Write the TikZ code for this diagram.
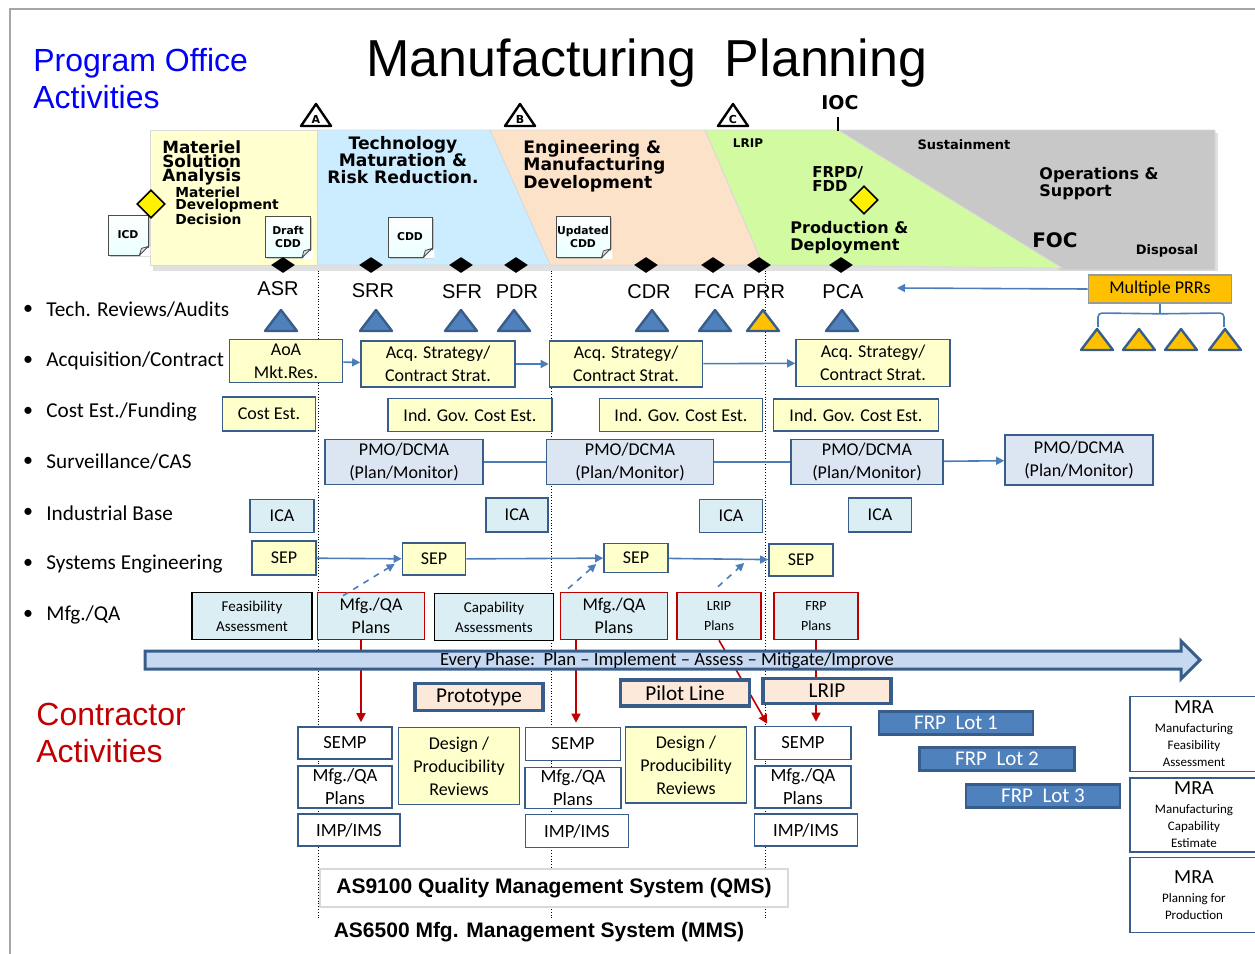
\documentclass[tikz,border=0pt]{standalone}
\usepackage{fontspec}
\setmainfont{Carlito}
\newfontfamily\arialf{Liberation Sans}
\newfontfamily\verdf{DejaVu Sans}
\usetikzlibrary{shapes.geometric,arrows.meta,calc,shadows}

\definecolor{bordblue}{RGB}{56,93,138}
\definecolor{lineblue}{RGB}{74,126,187}
\definecolor{paleyel}{RGB}{255,255,204}
\definecolor{pmoblue}{RGB}{220,230,242}
\definecolor{icablue}{RGB}{218,238,243}
\definecolor{peach}{RGB}{253,233,217}
\definecolor{darkred}{RGB}{192,0,0}
\definecolor{prrorange}{RGB}{255,192,0}
\definecolor{revblue}{RGB}{79,129,189}
\definecolor{msayel}{RGB}{255,255,208}
\definecolor{tmrrblue}{RGB}{204,236,255}
\definecolor{emdpeach}{RGB}{252,226,200}
\definecolor{pdgreen}{RGB}{210,250,160}
\definecolor{osgray}{RGB}{200,200,200}
\definecolor{phaseblue}{RGB}{198,217,241}
\definecolor{progblue}{RGB}{0,0,255}
\newcommand\fsz[2]{\fontsize{#1}{#2}\selectfont}

\tikzset{
  sz/.style 2 args={minimum width=#1*0.5pt,minimum height=#2*0.5pt},
  govbox/.style={draw=bordblue,line width=0.8pt,inner sep=0pt,align=center,font=\fsz{9}{11.5}},
  yelbox/.style={govbox,fill=paleyel},
  pmobox/.style={govbox,fill=pmoblue},
  icabox/.style={govbox,fill=icablue},
  assessbox/.style={govbox,draw=black,fill=icablue,font=\fsz{7.5}{10}},
  planbox/.style={govbox,draw=darkred,fill=icablue},
  ctrbox/.style={govbox,fill=white,font=\fsz{9.3}{11.5}},
  prodbox/.style={govbox,fill=peach,line width=1.6pt,font=\fsz{10.6}{12}},
  lotbox/.style={govbox,fill=revblue,line width=1.2pt,text=white,font=\fsz{10.5}{12}},
  mrabox/.style={govbox,fill=white,font=\fsz{6.5}{8.5}},
  docicon/.style={draw=black!70,top color=white,bottom color=cyan!8,inner sep=0pt,align=center,
    font=\verdf\bfseries\fsz{5.4}{6.8},
    drop shadow={shadow xshift=0.8pt,shadow yshift=-0.8pt,fill=black!40}},
  phasetxt/.style={inner sep=0pt,align=left,font=\verdf\bfseries\fsz{8.6}{8.7}},
  rowlab/.style={anchor=west,inner sep=0pt,font=\fsz{10.6}{12}},
  revlab/.style={inner sep=0pt,font=\arialf\fsz{10}{12}},
  revdia/.style={diamond,fill=black,inner sep=0pt,minimum width=12pt,minimum height=8pt},
  mdddia/.style={diamond,draw=black,fill=yellow,line width=0.8pt,inner sep=0pt,minimum width=14pt,minimum height=14pt},
  barrow/.style={draw=lineblue,line width=0.8pt,-{Triangle[length=4pt,width=4pt]}},
  bline/.style={draw=lineblue,line width=0.8pt},
  rarrow/.style={draw=darkred,line width=0.8pt,-{Triangle[length=4.5pt,width=4.5pt]}},
  revtri/.style={fill=revblue,draw=bordblue,line width=1.2pt,line join=round},
  prrtri/.style={fill=prrorange,draw=bordblue,line width=1.2pt,line join=round},
}

\begin{document}
\begin{tikzpicture}[x=0.5pt,y=-0.5pt]
\useasboundingbox (0,0) rectangle (1255,954);
% slide frame
\draw[gray!70,line width=1pt] (10,954) -- (10,9) -- (1255,9);

% phase dividers
\foreach \dx in {318,551,765}
  \draw[densely dotted,line width=0.4pt] (\dx,265) -- (\dx,920);

% headings
\node[font=\arialf\fsz{26}{30}] (title) at (647,63) {Manufacturing\ \ Planning};
\node[anchor=west,align=left,inner sep=0pt,text=progblue,font=\arialf\fsz{16}{18.5}] (prog) at (33,79) {Program Office\\Activities};
\node[anchor=west,align=left,inner sep=0pt,text=darkred,font=\arialf\fsz{16}{18.5}] (contr) at (36,733) {Contractor\\Activities};

% acquisition phases band
\fill[black!12] (153,133) rectangle (1218,271);
\filldraw[draw=white!85!black,fill=osgray] (838,130) -- (1215,130) -- (1215,270) -- (1060,270) -- cycle;
\filldraw[draw=white!85!black,fill=pdgreen] (705,130) -- (838,130) -- (1062,268) -- (763,265) -- cycle;
\filldraw[draw=white!85!black,fill=emdpeach] (490,130) -- (705,130) -- (763,265) -- (550,265) -- cycle;
\filldraw[draw=white!85!black,fill=tmrrblue] (317,130) -- (490,130) -- (550,265) -- (317,265) -- cycle;
\filldraw[draw=white!85!black,fill=msayel] (150,130) rectangle (317,265);

% milestones
\foreach \mx/\ml in {316/A,520/B,733/C}{
  \draw[fill=white,line width=1.2pt,line join=round] (\mx-15,126) -- (\mx+15,126) -- (\mx,104) -- cycle;
  \node[inner sep=0pt,font=\verdf\bfseries\fsz{5.5}{6}] (ms\ml) at (\mx,119) {\ml};
}
\node[font=\verdf\bfseries\fsz{9.5}{10}] (ioc) at (840,103) {IOC};
\draw[line width=1.4pt] (838,117) -- (838,131);

% phase texts
\node[phasetxt,anchor=north west,font=\verdf\bfseries\fsz{8.4}{7}] (msa) at (162,140) {Materiel\\Solution\\Analysis};
\node[phasetxt,anchor=north west,font=\verdf\bfseries\fsz{6.9}{5.7}] (mddtxt) at (175,187) {Materiel\\Development\\Decision};
\node[phasetxt,align=center] (tmrr) at (403,160) {Technology\\Maturation \&\\Risk Reduction.};
\node[phasetxt,anchor=north west] (emd) at (523,140) {Engineering \&\\Manufacturing\\Development};
\node[phasetxt,font=\verdf\bfseries\fsz{6}{7}] (lriptxt) at (748,143) {LRIP};
\node[phasetxt,anchor=north west,font=\verdf\bfseries\fsz{7.5}{7}] (frpdtxt) at (812,166) {FRPD/\\FDD};
\node[phasetxt,anchor=north west,font=\verdf\bfseries\fsz{8}{8.5}] (pd) at (790,221) {Production \&\\Deployment};
\node[phasetxt,font=\verdf\bfseries\fsz{6.5}{7}] (sust) at (964,145) {Sustainment};
\node[phasetxt,anchor=north west,font=\verdf\bfseries\fsz{8}{8.5}] (os) at (1039,167) {Operations \&\\Support};
\node[phasetxt,font=\verdf\bfseries\fsz{10}{11}] (foc) at (1055,240) {FOC};
\node[phasetxt,font=\verdf\bfseries\fsz{6.5}{7}] (disp) at (1167,251) {Disposal};

% documents
\foreach \dn/\dx/\dy/\dw/\dh/\dt in {icd/128/235/40/40/ICD, dcdd/288/237/45/41/{Draft\\CDD},
    cdd/410/237/44/40/CDD, ucdd/583/237/54/41/{Updated\\CDD}}{
  \node[docicon,sz={\dw}{\dh}] (\dn) at (\dx,\dy) {\dt};
  \fill[white] ($(\dn.south east)+(-9,1)$) -- ($(\dn.south east)+(2,1)$) -- ($(\dn.south east)+(2,-9)$) -- cycle;
  \draw[black!70,fill=black!12,line join=round] ($(\dn.south east)+(-9,0)$) -- ($(\dn.south east)+(-7,-7)$) -- ($(\dn.south east)+(0,-9)$) -- cycle;
}
\node[mdddia] (mdd) at (151,204) {};
\node[mdddia] (frpd) at (864,200) {};

% technical reviews
\foreach \i/\rx in {1/283,2/371,3/461,4/516,5/646,6/713,7/759,8/841}
  \node[revdia] (rd\i) at (\rx,265) {};
\foreach \rl/\rx/\ry in {ASR/278/289,SRR/373/291,SFR/462/292,PDR/517/292,CDR/649/292,FCA/714/292,PRR/764/292,PCA/843/292}
  \node[revlab] (lab\rl) at (\rx,\ry) {\rl};
\foreach \tx in {281,376,461,514,652,715,842}
  \draw[revtri] (\tx-16,331) -- (\tx+16,331) -- (\tx,310) -- cycle;
\draw[prrtri] (747,331) -- (779,331) -- (763,310) -- cycle;
\foreach \tx in {1097,1139,1181,1225}
  \draw[prrtri] (\tx-16,350) -- (\tx+16,350) -- (\tx,329) -- cycle;
\node[govbox,fill=prrorange,draw=black!40,sz={143}{28}] (mprr) at (1160,289) {Multiple PRRs};
\coordinate (pcaend) at (897,288);
\draw[barrow] (mprr.west) -- (pcaend);
\draw[bline] (mprr.south) -- ++(0,10) coordinate (brk);
\draw[bline,rounded corners=2pt] (1098,327) -- (1098,313) -- (brk) -- (1224,313) -- (1224,327);

% row labels
\foreach \ry/\rt in {310/{Tech. Reviews/Audits},361/{Acquisition/Contract},412/{Cost Est./Funding},
    462/{Surveillance/CAS},513/{Industrial Base},564/{Systems Engineering},615/{Mfg./QA}}{
  \node[inner sep=0pt,font=\fsz{10}{12}] (bul\ry) at (28,\ry) {\textbullet};
  \node[rowlab] (row\ry) at (46,\ry) {\rt};
}

% acquisition / contract
\node[yelbox,sz={113}{43}] (aoa) at (286,361) {AoA\\Mkt.Res.};
\node[yelbox,sz={154}{46}] (acq1) at (438,364) {Acq. Strategy/\\Contract Strat.};
\node[yelbox,sz={153}{46}] (acq2) at (626,364) {Acq. Strategy/\\Contract Strat.};
\node[yelbox,sz={154}{47}] (acq3) at (873,363) {Acq. Strategy/\\Contract Strat.};
% cost
\node[yelbox,sz={93}{34}] (cost0) at (269,414) {Cost Est.};
\node[yelbox,sz={164}{33}] (igce1) at (470,415) {Ind. Gov. Cost Est.};
\node[yelbox,sz={163}{33}] (igce2) at (681,415) {Ind. Gov. Cost Est.};
\node[yelbox,sz={165}{32}] (igce3) at (856,415) {Ind. Gov. Cost Est.};
% surveillance
\node[pmobox,sz={158}{45}] (pmo1) at (404,462) {PMO/DCMA\\(Plan/Monitor)};
\node[pmobox,sz={167}{45}] (pmo2) at (630,462) {PMO/DCMA\\(Plan/Monitor)};
\node[pmobox,sz={152}{45}] (pmo3) at (867,462) {PMO/DCMA\\(Plan/Monitor)};
\node[pmobox,sz={148}{50}] (pmo4) at (1079,460) {PMO/DCMA\\(Plan/Monitor)};
% industrial base
\node[icabox,sz={64}{33}] (ica1) at (282,516) {ICA};
\node[icabox,sz={62}{34}] (ica2) at (517,515) {ICA};
\node[icabox,sz={63}{33}] (ica3) at (731,516) {ICA};
\node[icabox,sz={63}{34}] (ica4) at (880,515) {ICA};
% systems engineering
\node[yelbox,sz={64}{34}] (sep1) at (284,558) {SEP};
\node[yelbox,sz={63}{32}] (sep2) at (434,559) {SEP};
\node[yelbox,sz={64}{29}] (sep3) at (636,558) {SEP};
\node[yelbox,sz={64}{32}] (sep4) at (801,560) {SEP};
% mfg / qa
\node[assessbox,sz={120}{47}] (feas) at (252,616) {Feasibility\\Assessment};
\node[planbox,sz={107}{47}] (mqa1) at (371,616) {Mfg./QA\\Plans};
\node[assessbox,sz={119}{47}] (capa) at (494,617) {Capability\\Assessments};
\node[planbox,sz={107}{47}] (mqa2) at (614,616) {Mfg./QA\\Plans};
\node[planbox,sz={84}{47},font=\fsz{7}{10}] (lplan) at (719,616) {LRIP\\Plans};
\node[planbox,sz={84}{47},font=\fsz{7}{10}] (fplan) at (816,616) {FRP\\Plans};

\path
\foreach \s/\e in {aoa/acq1,acq1/acq2,acq2/acq3,sep1/sep2,sep2/sep3,sep3/sep4,pmo3/pmo4}
{
  (\s) edge[barrow] (\e)
};
\path
\foreach \s/\e in {pmo1/pmo2,pmo2/pmo3}
{
  (\s) edge[bline] (\e)
};
\draw[barrow,dashed] ($(mqa1.north)+(-28,4)$) -- ($(sep2.west)+(-7,5)$);
\draw[barrow,dashed] ($(mqa2.north)+(-46,-3)$) -- ($(sep3.west)+(-7,6)$);
\draw[barrow,dashed] ($(lplan.north)+(-1,-5)$) -- ($(sep4.west)+(-24,3)$);

% contractor activities
\node[ctrbox,sz={94}{32}] (semp1) at (345,743) {SEMP};
\node[ctrbox,sz={94}{42}] (cmqa1) at (345,787) {Mfg./QA\\Plans};
\node[ctrbox,sz={102}{32}] (imp1) at (349,830) {IMP/IMS};
\node[yelbox,sz={121}{77}] (dpr1) at (459,766) {Design /\\Producibility\\Reviews};
\node[ctrbox,sz={95}{33}] (semp2) at (573,744) {SEMP};
\node[ctrbox,sz={96}{41}] (cmqa2) at (573,788) {Mfg./QA\\Plans};
\node[ctrbox,sz={103}{33}] (imp2) at (577,831) {IMP/IMS};
\node[yelbox,sz={121}{76}] (dpr2) at (686,765) {Design /\\Producibility\\Reviews};
\node[ctrbox,sz={96}{33}] (semp3) at (803,743) {SEMP};
\node[ctrbox,sz={96}{42}] (cmqa3) at (803,787) {Mfg./QA\\Plans};
\node[ctrbox,sz={103}{32}] (imp3) at (806,830) {IMP/IMS};

\draw[rarrow] ($(mqa1.south)+(-10,0)$) -- ($(mqa1.south |- semp1.north)+(-10,-4)$);
\draw[rarrow] ($(mqa2.south)+(-38,0)$) -- ($(mqa2.south |- semp2.north)+(-38,-4)$);
\draw[rarrow] (lplan.south) -- ($(semp3.north west)+(13,-2)$);
\draw[rarrow] (fplan.south) -- ($(fplan.south |- semp3.north)+(0,-4)$);

% every phase arrow
\draw[fill=phaseblue,draw=bordblue,line width=1.5pt] (145,651) -- (1181,651) -- (1181,641) -- (1200,660)
  -- (1181,679) -- (1181,669) -- (145,669) -- cycle;
\node[inner sep=0pt,font=\fsz{9.3}{10}] (phase) at (667,661) {Every Phase:\ \ Plan -- Implement -- Assess -- Mitigate/Improve};

% production stages
\node[prodbox,sz={128}{27}] (proto) at (479,697) {Prototype};
\node[prodbox,sz={129}{26}] (pilot) at (685,693) {Pilot Line};
\node[prodbox,sz={128}{25}] (lripb) at (827,691) {LRIP};
\node[lotbox,sz={154}{23}] (lot1) at (956,723) {FRP\ \ Lot 1};
\node[lotbox,sz={155}{23}] (lot2) at (997,759) {FRP\ \ Lot 2};
\node[lotbox,sz={154}{23}] (lot3) at (1043,796) {FRP\ \ Lot 3};

% MRA
\node[mrabox,sz={128}{75}] (mra1) at (1194,734) {{\fsz{10}{12}MRA}\\[1pt]Manufacturing\\Feasibility\\Assessment};
\node[mrabox,sz={128}{74}] (mra2) at (1194,815) {{\fsz{10}{12}MRA}\\[1pt]Manufacturing\\Capability\\Estimate};
\node[mrabox,sz={128}{75}] (mra3) at (1194,895) {{\fsz{10}{12}MRA}\\[1pt]Planning for\\Production};

% quality systems
\node[draw=black!15,fill=white,line width=0.8pt,inner sep=0pt,sz={468}{38},font=\arialf\bfseries\fsz{10.5}{12}] (qms) at (554,888) {AS9100 Quality Management System (QMS)};
\node[inner sep=0pt,font=\arialf\bfseries\fsz{10.5}{12}] (mms) at (539,932) {AS6500 Mfg. Management System (MMS)};
\end{tikzpicture}
\end{document}
